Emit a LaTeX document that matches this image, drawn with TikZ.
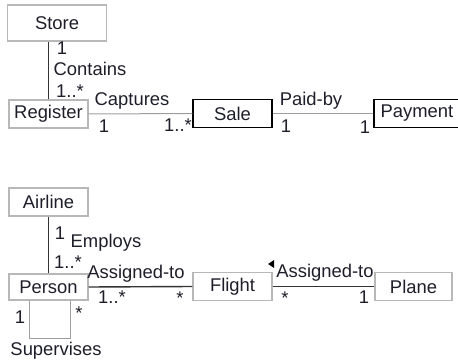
\documentclass[tikz,border=0pt]{standalone}
\usepackage{fontspec}
\setmainfont{Liberation Sans}
\usepackage{xcolor}
\usetikzlibrary{positioning}

\definecolor{boxgray}{gray}{0.72}
\definecolor{linegray}{gray}{0.62}
\definecolor{inkdark}{HTML}{1E1E2A}

\begin{document}
\begin{tikzpicture}[
    x=0.5pt, y=-0.5pt,
    every node/.style={font=\fontsize{9.2}{11}\selectfont, text=inkdark, inner sep=0pt},
    klass/.style={draw=boxgray, line width=0.6pt, fill=white, minimum width=39.5pt, minimum height=14pt},
    keyclass/.style={klass, draw=black, line width=0.7pt},
    assoc/.style={draw=black!80, line width=0.7pt},
    weak/.style={draw=linegray, line width=0.5pt},
    mult/.style={font=\fontsize{9.2}{11}\selectfont}
]
\useasboundingbox (0,0) rectangle (458,362);

% upper model
\node[klass, minimum width=49.5pt, minimum height=18pt] (store) at (57,23) {Store};
\node[klass] (register) at (48.5,114) {Register};
\node[keyclass] (sale) at (232.5,113.5) {Sale};
\node[keyclass, minimum width=43pt] (payment) at (417,113.5) {Payment};

\draw[assoc] (register.north) -- (register.north |- store.south);
\draw[weak] (register.east) -- (sale.west);
\draw[weak] (sale.east) -- (payment.west);

\node[mult] (m1) at (62,48) {1};
\node (contains) at (90,69) {Contains};
\node[mult] (m2) at (70,91) {1..*};
\node (captures) at (132,101) {Captures};
\node[mult] (m3) at (104,126) {1};
\node[mult] (m4) at (178,125) {1..*};
\node (paidby) at (311,101) {Paid-by};
\node[mult] (m5) at (286,126) {1};
\node[mult] (m6) at (365,127) {1};

% lower model
\node[klass] (airline) at (48.5,202) {Airline};
\node[klass, minimum height=13pt] (person) at (48.5,287) {Person};
\node[klass] (flight) at (232.5,286.5) {Flight};
\node[klass, minimum width=38.5pt] (plane) at (413.5,286.5) {Plane};

\draw[assoc] (person.north) -- (person.north |- airline.south);
\draw[assoc] (person.east) -- (flight.west);
\draw[assoc] (flight.east) -- (plane.west);
\draw[weak] ([xshift=10.5pt]person.south west) -- ++(0,38) -| ([xshift=-9pt]person.south east);

\node[mult] (m7) at (60,233) {1};
\node (employs) at (106,243) {Employs};
\node[mult] (m8) at (68,262) {1..*};
\node (assigned1) at (136,274) {Assigned-to};
\node[mult] (m9) at (112,297) {1..*};
\node[mult] (m10) at (180,298) {*};
\node[mult] (m11) at (20,317) {1};
\node[mult] (m12) at (79,313) {*};
\node (supervises) at (56,351) {Supervises};
\node (assigned2) at (325,273) {Assigned-to};
\node[mult] (m13) at (285,298) {*};
\node[mult] (m14) at (364,297) {1};

% reading direction
\fill[black] (274,260) -- (274,268) -- (268,264) -- cycle;
\end{tikzpicture}
\end{document}
